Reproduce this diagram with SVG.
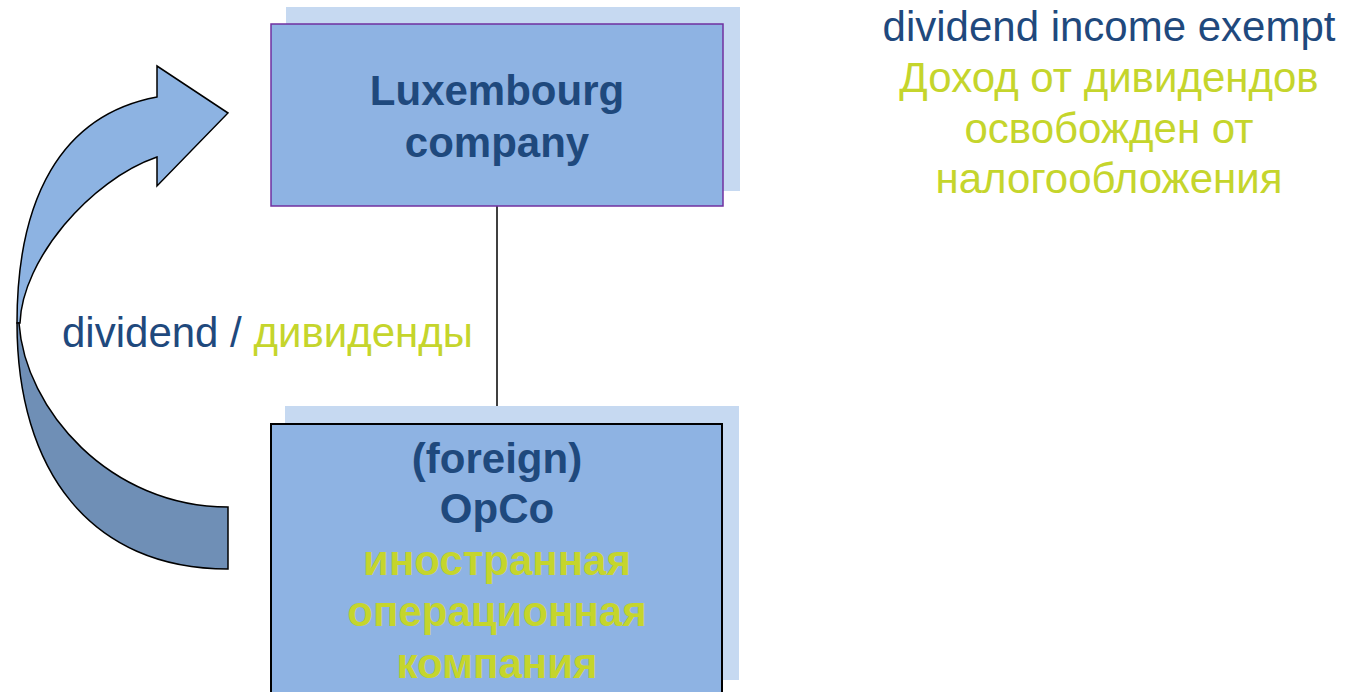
<svg xmlns="http://www.w3.org/2000/svg" width="1358" height="692" viewBox="0 0 1358 692">
<style>
.shadow{fill:#C6D9F1}
.box{fill:#8EB3E3}
.t{font-family:"Liberation Sans",Arial,sans-serif;text-anchor:middle}
.b{font-weight:bold;font-size:42px}
.blue{fill:#1F497D}
.lime{fill:#C5D52C}
.r{font-size:42px}
</style>
<rect width="1358" height="692" fill="#FFFFFF"/>
<g id="connectors">
<line x1="497" y1="206" x2="497" y2="418" stroke="#000" stroke-width="1.5"/>
</g>
<g id="arrow">
<path d="M157,97 L157,66 L228,113 L157,186 L157,157 C90,180 22,260 20,323 L17,323 C17,200 60,115 157,97 Z" fill="#8DB3E2" stroke="#000" stroke-width="1.5" stroke-linejoin="miter"/>
<path d="M17,323 C17,470 90,569 228,569 L228,507 C110,507 25,410 19,323 Z" fill="#6F8FB6" stroke="#000" stroke-width="1.5"/>
</g>
<g id="lux">
<rect class="shadow" x="286" y="7" width="454" height="184"/>
<rect class="box" x="271" y="24" width="452" height="182" stroke="#7030A0" stroke-width="1.5"/>
<text class="t b blue" x="497" y="105">Luxembourg</text>
<text class="t b blue" x="497" y="157">company</text>
</g>
<g id="opco">
<rect class="shadow" x="285" y="406" width="454" height="274"/>
<rect class="box" x="271" y="424" width="451" height="280" stroke="#000" stroke-width="2"/>
<text class="t b blue" x="497" y="473">(foreign)</text>
<text class="t b blue" x="497" y="523">OpCo</text>
<text class="t b lime" x="497" y="575">иностранная</text>
<text class="t b lime" x="497" y="626">операционная</text>
<text class="t b lime" x="497" y="678">компания</text>
</g>
<g id="label-dividend">
<text class="t" x="62" y="347" style="text-anchor:start;font-size:42px"><tspan class="blue">dividend / </tspan><tspan class="lime">дивиденды</tspan></text>
</g>
<g id="label-exempt">
<text class="t r blue" x="1109" y="41">dividend income exempt</text>
<text class="t r lime" x="1109" y="92">Доход от дивидендов</text>
<text class="t r lime" x="1109" y="143">освобожден от</text>
<text class="t r lime" x="1109" y="193">налогообложения</text>
</g>
</svg>
